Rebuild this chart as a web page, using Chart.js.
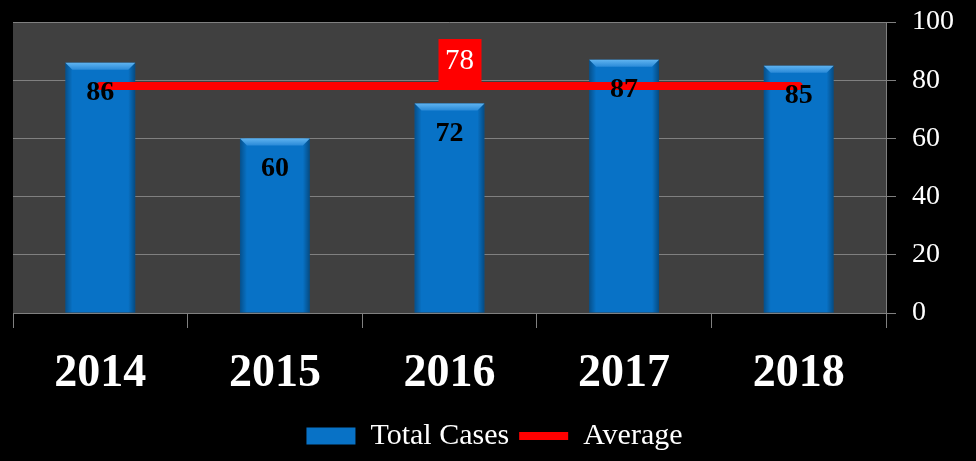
<!DOCTYPE html>
<html lang="en">
<head>
  <meta charset="UTF-8" />
  <title>Total Cases</title>
  <script src="https://cdn.jsdelivr.net/npm/chart.js"></script>
  <style>
    body { margin: 0; background: #000; }
    canvas { display: block; }
  </style>
</head>
<body>
  <canvas id="casesChart" width="976" height="461"></canvas>
  <script>
    const years = ['2014', '2015', '2016', '2017', '2018'];
    const totalCases = [86, 60, 72, 87, 85];
    const average = [78, 78, 78, 78, 78];
    const averageLabelIndex = 2;

    const serif = "'Liberation Serif', 'Times New Roman', serif";

    // dark grey plot area
    const plotBackground = {
      id: 'plotBackground',
      beforeDraw(chart) {
        const { ctx, chartArea: a } = chart;
        ctx.save();
        ctx.fillStyle = '#404040';
        ctx.fillRect(a.left, a.top, a.right - a.left, a.bottom - a.top);
        ctx.restore();
      }
    };

    // bevel look on the bars
    const barBevel = {
      id: 'barBevel',
      afterDatasetDraw(chart, args) {
        if (args.index !== 0) return;
        const ctx = chart.ctx;
        args.meta.data.forEach(bar => {
          const { x, y, base, width } = bar.getProps(['x', 'y', 'base', 'width'], true);
          const left = x - width / 2, right = x + width / 2, b = 7;
          ctx.save();
          const side = ctx.createLinearGradient(left, 0, right, 0);
          side.addColorStop(0, 'rgba(0,0,0,0.3)');
          side.addColorStop(0.1, 'rgba(0,0,0,0)');
          side.addColorStop(0.9, 'rgba(0,0,0,0)');
          side.addColorStop(1, 'rgba(0,0,0,0.35)');
          ctx.fillStyle = side;
          ctx.fillRect(left, y, width, base - y);
          const top = ctx.createLinearGradient(0, y, 0, y + b);
          top.addColorStop(0, '#5fb3f0');
          top.addColorStop(1, '#2a8ad8');
          ctx.fillStyle = top;
          ctx.beginPath();
          ctx.moveTo(left, y);
          ctx.lineTo(right, y);
          ctx.lineTo(right - b, y + b);
          ctx.lineTo(left + b, y + b);
          ctx.closePath();
          ctx.fill();
          ctx.restore();
        });
      }
    };

    // value labels
    const valueLabels = {
      id: 'valueLabels',
      afterDatasetsDraw(chart) {
        const ctx = chart.ctx;
        ctx.save();
        ctx.textAlign = 'center';
        ctx.textBaseline = 'middle';
        ctx.font = 'bold 28px ' + serif;
        ctx.fillStyle = '#000';
        chart.getDatasetMeta(0).data.forEach((bar, i) => {
          ctx.fillText(totalCases[i], bar.x, bar.y + 30);
        });
        const pt = chart.getDatasetMeta(1).data[averageLabelIndex];
        const bx = pt.x + 10;
        ctx.fillStyle = '#ff0000';
        ctx.fillRect(bx - 21, pt.y - 47, 43, 45);
        ctx.fillStyle = '#fff';
        ctx.font = '29px ' + serif;
        ctx.fillText(average[averageLabelIndex], bx, pt.y - 25);
        ctx.restore();
      }
    };

    new Chart(document.getElementById('casesChart'), {
      data: {
        labels: years,
        datasets: [
          {
            type: 'bar',
            label: 'Total Cases',
            data: totalCases,
            backgroundColor: '#0872c6',
            borderWidth: 0,
            categoryPercentage: 1,
            barPercentage: 0.4,
            pointStyle: 'rect',
            order: 2
          },
          {
            type: 'line',
            label: 'Average',
            data: average,
            borderColor: '#ff0000',
            backgroundColor: '#ff0000',
            borderWidth: 8,
            borderCapStyle: 'round',
            pointRadius: 0,
            pointStyle: 'line',
            order: 1
          }
        ]
      },
      options: {
        responsive: false,
        animation: false,
        layout: { padding: { left: 13, top: 22, right: 0, bottom: 0 } },
        scales: {
          x: {
            offset: true,
            grid: {
              offset: true,
              drawOnChartArea: false,
              color: '#808080',
              tickLength: 15
            },
            border: { color: '#808080' },
            ticks: {
              color: '#fff',
              padding: 19,
              font: { family: serif, size: 46, weight: 'bold' }
            },
            afterFit(scale) { scale.height = 98; }
          },
          y: {
            position: 'right',
            min: 0,
            max: 100,
            ticks: {
              stepSize: 20,
              color: '#fff',
              padding: 16,
              font: { family: serif, size: 28, lineHeight: 1 }
            },
            grid: { color: '#808080', tickLength: 10 },
            border: { color: '#808080' },
            afterFit(scale) {
              scale.width = 90;
              scale.paddingTop = 0;
              scale.paddingBottom = 0;
            }
          }
        },
        plugins: {
          legend: {
            position: 'bottom',
            labels: {
              usePointStyle: true,
              pointStyleWidth: 49,
              boxHeight: 17,
              color: '#fff',
              padding: 10,
              font: { family: serif, size: 30 },
              sort: (a, b) => a.datasetIndex - b.datasetIndex
            }
          },
          tooltip: { enabled: false }
        }
      },
      plugins: [plotBackground, barBevel, valueLabels]
    });
  </script>
</body>
</html>
